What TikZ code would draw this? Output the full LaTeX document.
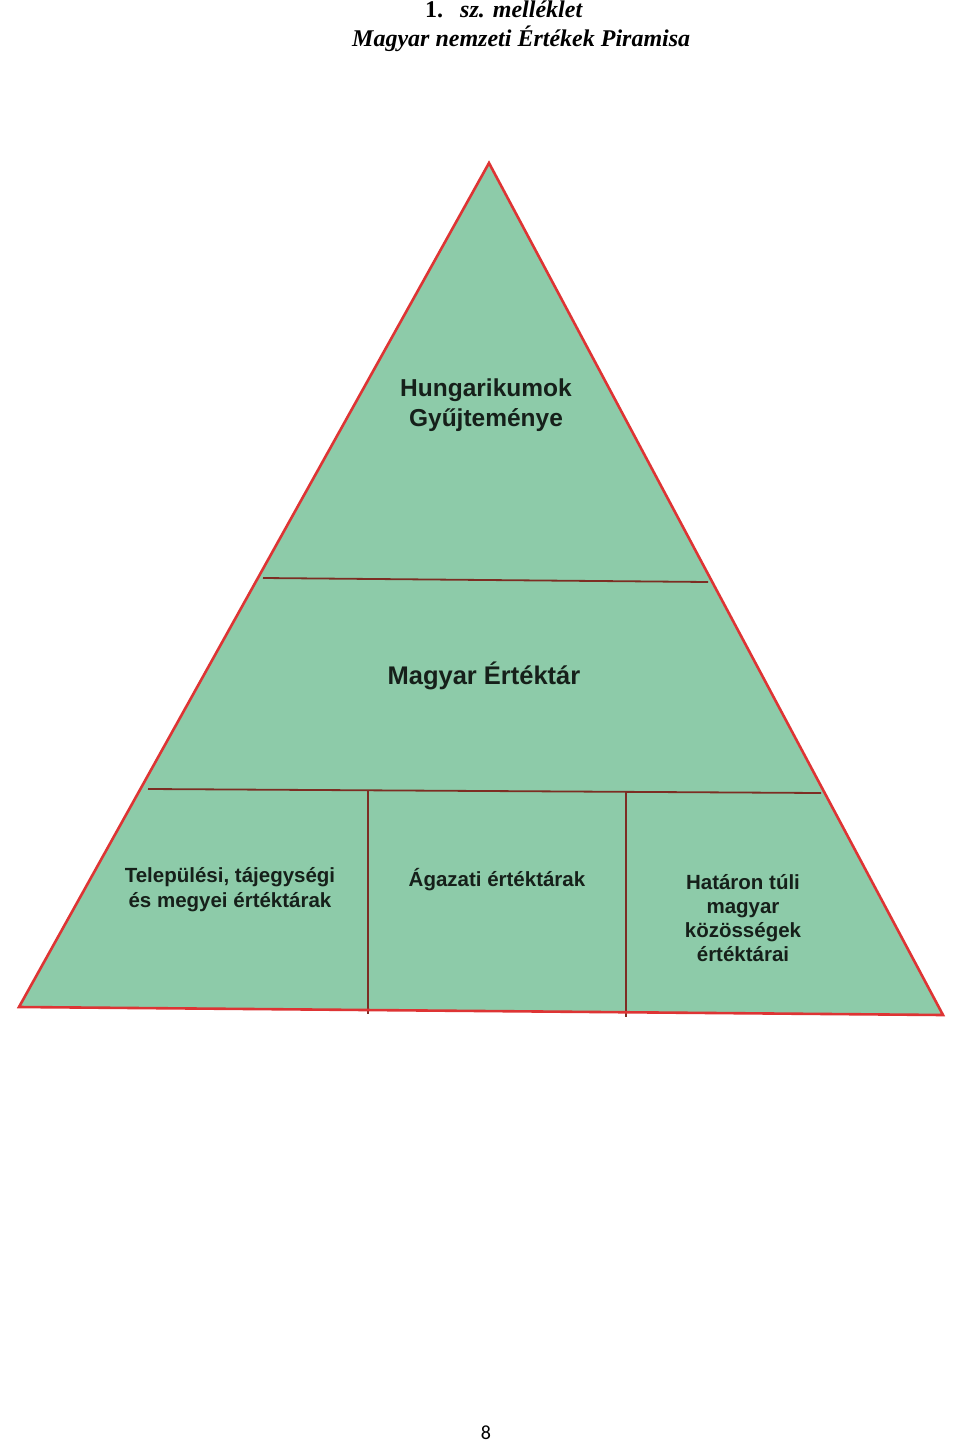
\documentclass[tikz,border=0pt]{standalone}
\usepackage{fontspec}
\setmainfont{Liberation Serif}
\newfontfamily\labelfont{Liberation Sans}
\newfontfamily\pagefont{Carlito}
\definecolor{pyrgreen}{RGB}{141,203,169}
\definecolor{edgered}{RGB}{222,52,52}
\definecolor{divred}{RGB}{125,45,35}
\definecolor{labelink}{RGB}{22,32,26}
\tikzset{
  pyrfill/.style={fill=pyrgreen},
  pyredge/.style={draw=edgered, line width=2.6pt, line join=miter},
  divline/.style={draw=divred, line width=1.8pt},
  lbl/.style={align=center, text=labelink, font=\labelfont\bfseries\fontsize{20.5}{25}\selectfont, inner sep=0pt},
  biglbl/.style={lbl, font=\labelfont\bfseries\fontsize{24.5}{30}\selectfont},
  titletxt/.style={anchor=base west, inner sep=0pt, font=\bfseries\itshape\fontsize{24}{29}\selectfont}
}
\begin{document}
\begin{tikzpicture}[x=1pt,y=-1pt]
\fill[white] (0,0) rectangle (960,1442);
\useasboundingbox (0,0) rectangle (960,1442);

% title
\node[titletxt] (t1) at (425,18) {\upshape 1.\hspace{17pt}\itshape sz. melléklet};
\node[titletxt] (t2) at (352,47) {Magyar nemzeti Értékek Piramisa};

% pyramid corners
\coordinate (apex) at (489,163);
\coordinate (bl) at (19,1007);
\coordinate (br) at (943,1015);

\fill[pyrfill] (apex) -- (bl) -- (br) -- cycle;

% dividers
\coordinate (d1l) at (263,578);
\coordinate (d1r) at (708,582);
\coordinate (d2l) at (148,789);
\coordinate (d2r) at (821,793);
\coordinate (v1t) at (368,790);
\coordinate (v1b) at (368,1014);
\coordinate (v2t) at (626,792);
\coordinate (v2b) at (626,1017);
\draw[divline] (d1l) -- (d1r);
\draw[divline] (d2l) -- (d2r);
\draw[divline] (v1t) -- (v1b);
\draw[divline] (v2t) -- (v2b);

\draw[pyredge] (apex) -- (bl) -- (br) -- cycle;

% labels
\node[biglbl] (hung) at (486,405) {Hungarikumok\\Gyűjteménye};
\node[biglbl, font=\labelfont\bfseries\fontsize{25.5}{30}\selectfont] (mag) at (484,676) {Magyar Értéktár};
\node[lbl] (tel) at (230,890) {Települési, tájegységi\\és megyei értéktárak};
\node[lbl] (aga) at (497,880) {Ágazati értéktárak};
\node[lbl, font=\labelfont\bfseries\fontsize{20.5}{24}\selectfont] (hat) at (743,918) {Határon túli\\magyar\\közösségek\\értéktárai};

% page number
\node[anchor=base, inner sep=0pt, font=\pagefont\fontsize{20}{24}\selectfont] (pg) at (486,1439) {8};
\end{tikzpicture}
\end{document}
